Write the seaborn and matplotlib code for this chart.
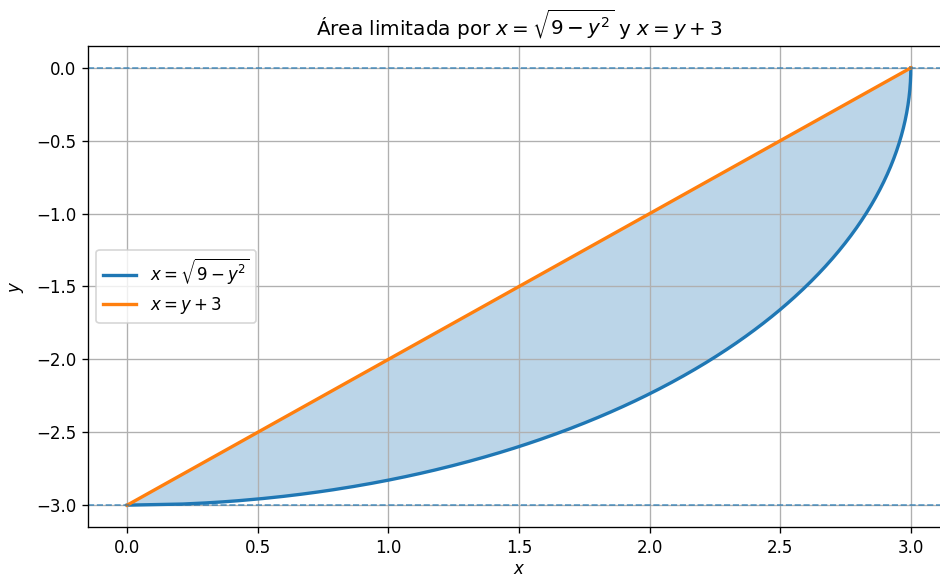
import numpy as np
import pandas as pd
import seaborn as sns
import matplotlib.pyplot as plt

# Limites de la région (en y) et courbes qui la bornent
y_min = -3.0
y_max = 0.0
n_points = 400

y_vals = np.linspace(y_min, y_max, n_points)
x_circle = np.sqrt(9 - y_vals**2)  # x = sqrt(9 - y^2)
x_line = y_vals + 3                # x = y + 3

df = pd.DataFrame({"y": y_vals, "x_circle": x_circle, "x_line": x_line})

plt.rcParams["font.family"] = "DejaVu Sans"

fig = plt.figure(figsize=(940 / 120, 577 / 120), dpi=120)
ax = fig.add_axes([88 / 940, 1 - 527 / 577, 862 / 940, 481 / 577])

sns.lineplot(data=df, x="x_circle", y="y", sort=False, color="C0", linewidth=2,
             label=r"$x=\sqrt{9-y^2}$", ax=ax)
sns.lineplot(data=df, x="x_line", y="y", sort=False, color="C1", linewidth=2,
             label=r"$x=y+3$", ax=ax)
ax.fill_betweenx(df["y"], df["x_line"], df["x_circle"], color="C0", alpha=0.3, linewidth=0)

ax.axhline(y_max, color="C0", linestyle="--", linewidth=1, alpha=0.7)
ax.axhline(y_min, color="C0", linestyle="--", linewidth=1, alpha=0.7)

ax.set_xlim(-0.15, 3.15)
ax.set_ylim(-3.15, 0.15)
ax.set_xlabel("$x$", labelpad=2)
ax.set_ylabel("$y$", labelpad=6)
ax.set_title(r"Área limitada por $x=\sqrt{9-y^2}$ y $x=y+3$")
ax.grid(True)
ax.legend(loc="center left")

fig.savefig("out.png", dpi=120)
